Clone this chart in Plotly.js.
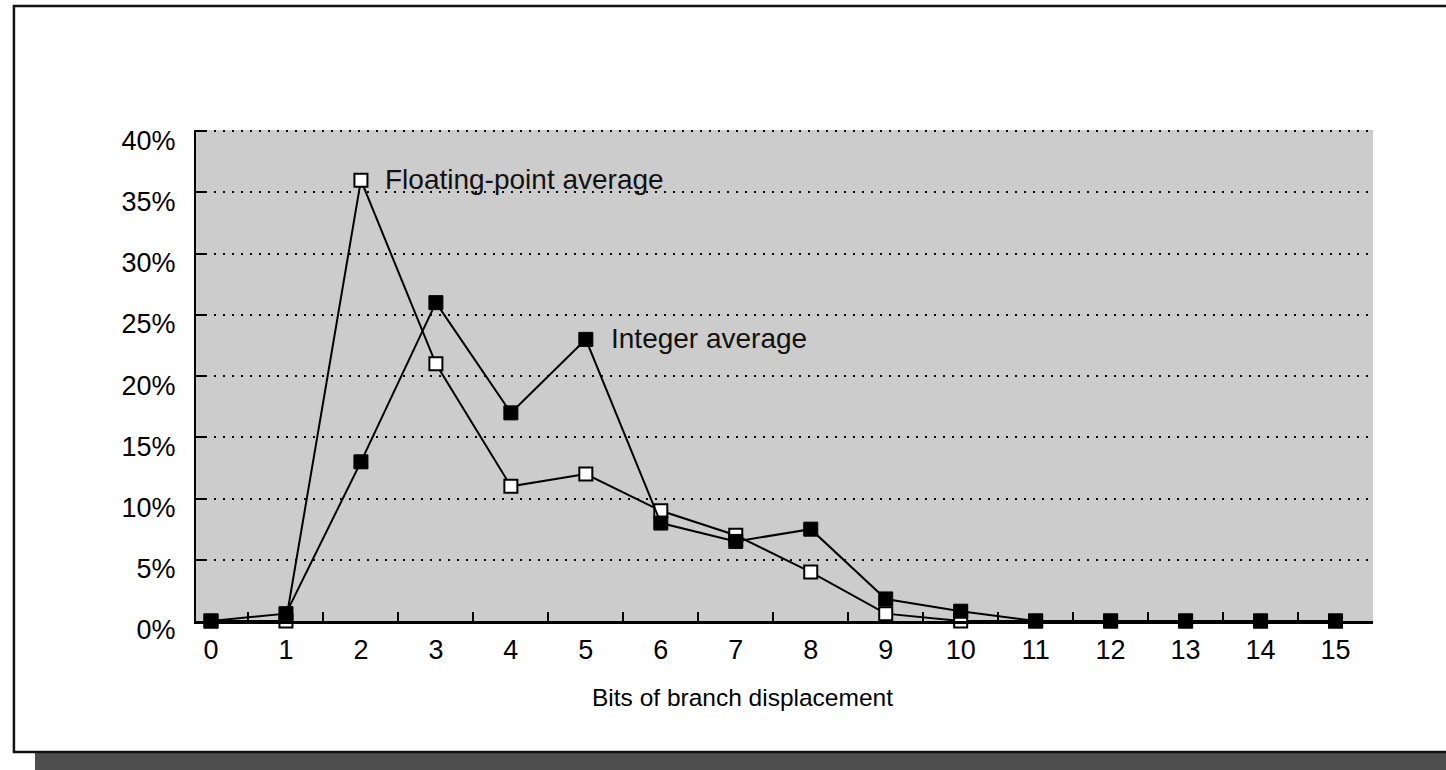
<!DOCTYPE html>
<html>
<head>
<meta charset="utf-8">
<script src="https://cdn.plot.ly/plotly-3.0.1.min.js"></script>
<style>html,body{margin:0;padding:0;background:#fff;}#chart{width:1446px;height:770px;}</style>
</head>
<body>
<div id="chart"></div>
<script>
const bits = ['0','1','2','3','4','5','6','7','8','9','10','11','12','13','14','15'];
const floatingPoint = [0, 0, 36, 21, 11, 12, 9, 7, 4, 0.6, 0, 0, 0, 0, 0, 0];
const integerAvg = [0, 0.6, 13, 26, 17, 23, 8, 6.5, 7.5, 1.8, 0.8, 0, 0, 0, 0, 0];
const yTicks = [0, 5, 10, 15, 20, 25, 30, 35, 40];
const fpLabel = 'Floating-point average';
const intLabel = 'Integer average';
const xTitle = 'Bits of branch displacement';

const FONT = 'Liberation Sans, Arial, Helvetica, sans-serif';

const traces = [
  {
    x: bits, y: floatingPoint, type: 'scatter', mode: 'lines+markers',
    cliponaxis: false, hoverinfo: 'skip',
    line: {color: '#000', width: 2},
    marker: {symbol: 'square', size: 13, color: '#fff', line: {color: '#000', width: 2}}
  },
  {
    x: bits, y: integerAvg, type: 'scatter', mode: 'lines+markers',
    cliponaxis: false, hoverinfo: 'skip',
    line: {color: '#000', width: 2},
    marker: {symbol: 'square', size: 14, color: '#000', line: {color: '#000', width: 1}}
  }
];

const layout = {
  width: 1446, height: 770,
  margin: {l: 196, r: 73, t: 130, b: 149, pad: 0},
  paper_bgcolor: '#ffffff',
  plot_bgcolor: '#cccccc',
  showlegend: false,
  font: {family: FONT, size: 27, color: '#000'},
  xaxis: {
    type: 'category',
    range: [-0.2, 15.5],
    tickson: 'boundaries',
    ticks: 'inside', ticklen: 9, tickwidth: 2, tickcolor: '#000',
    showline: true, linecolor: '#000', linewidth: 2.5,
    showgrid: false, zeroline: false,
    ticklabelstandoff: 3,
    tickfont: {family: FONT, size: 27, color: '#000'},
    fixedrange: true
  },
  yaxis: {
    range: [0, 40.1],
    tickvals: yTicks,
    ticktext: yTicks.map(v => v + '%'),
    ticks: 'inside', ticklen: 10, tickwidth: 2, tickcolor: '#000',
    showline: true, linecolor: '#000', linewidth: 2,
    showgrid: true, gridcolor: '#000', gridwidth: 2, griddash: '2px,7px',
    zeroline: false,
    ticklabelstandoff: 13,
    ticklabelshift: 9,
    tickfont: {family: FONT, size: 27, color: '#000'},
    fixedrange: true
  },
  shapes: [
    {type: 'rect', xref: 'paper', yref: 'paper', layer: 'below',
     x0: -0.1368, x1: 1.08, y0: -0.32, y1: -0.2668,
     fillcolor: '#4d4d4d', line: {width: 0}},
    {type: 'rect', xref: 'paper', yref: 'paper', layer: 'below',
     x0: -0.1547, x1: 1.07, y0: -0.2668, y1: 1.2525,
     fillcolor: 'rgba(0,0,0,0)', line: {color: '#111', width: 2.5}}
  ],
  annotations: [
    {x: '2', y: 36, xref: 'x', yref: 'y', text: fpLabel, showarrow: false,
     xanchor: 'left', yanchor: 'middle', xshift: 22, yshift: 1,
     font: {family: FONT, size: 28, color: '#111'}},
    {x: '5', y: 23, xref: 'x', yref: 'y', text: intLabel, showarrow: false,
     xanchor: 'left', yanchor: 'middle', xshift: 23, yshift: 1,
     font: {family: FONT, size: 28, color: '#111'}},
    {x: 0.4646, y: -0.155, xref: 'paper', yref: 'paper', text: xTitle, showarrow: false,
     xanchor: 'center', yanchor: 'middle',
     font: {family: FONT, size: 24.5, color: '#000'}}
  ]
};

Plotly.newPlot('chart', traces, layout, {staticPlot: true, displayModeBar: false});
</script>
</body>
</html>
